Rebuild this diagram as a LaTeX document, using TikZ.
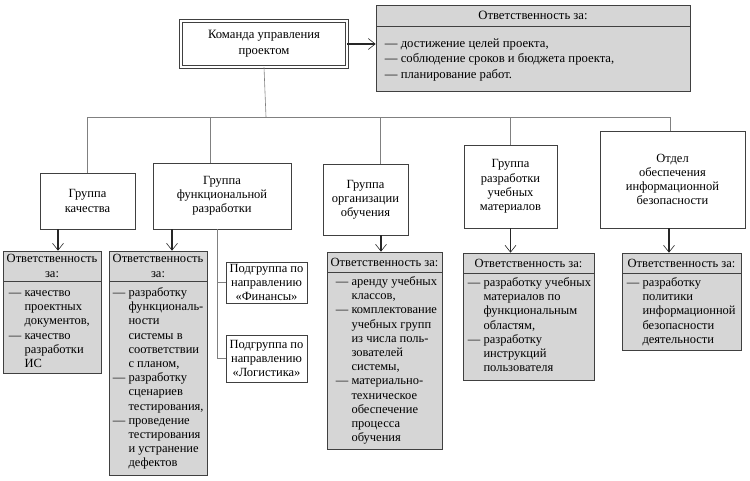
\documentclass[tikz,border=0pt]{standalone}
\usepackage{fontspec}
\setmainfont{Liberation Serif}
\usetikzlibrary{arrows.meta}

\newcommand{\ind}{\hphantom{— }}

\begin{document}
\begin{tikzpicture}[x=1pt,y=1pt,yscale=-1,
    every node/.style={font=\fontsize{12.5}{14.2}\selectfont},
    box/.style={draw=black!75, fill=white, line width=0.6pt, align=center, inner sep=0pt},
    resphead/.style={draw=black!75, fill=black!16, line width=0.6pt, align=center, inner sep=0pt},
    respbody/.style={draw=black!75, fill=black!16, line width=0.6pt, anchor=north west, inner sep=0pt},
    dutytext/.style={anchor=north west, align=left, inner sep=0pt},
    link/.style={draw=black!50, line width=0.6pt},
    resp/.style={draw=black!85, line width=1.4pt, -{Straight Barb[line width=0.6pt, length=7pt, width=11pt]}}]
    \path[use as bounding box] (0,0) rectangle (750,481);

    %Team and its duties
    \node[box, double, double distance=2pt, minimum width=166pt, minimum height=46pt,
          font=\fontsize{12.7}{16}\selectfont] (team) at (264,44) {Команда управления\\проектом};
    \node[resphead, minimum width=314pt, minimum height=21pt, font=\fontsize{12.7}{15}\selectfont] (rtop) at (533,15.5) {Ответственность за:};
    \node[respbody, minimum width=314pt, minimum height=65pt] (btop) at (rtop.south west) {};
    \node[dutytext, font=\fontsize{12.7}{15.5}\selectfont] (ttop) at ([xshift=9pt,yshift=10pt]btop.north west)
        {\strut— достижение целей проекта,\\— соблюдение сроков и бюджета проекта,\\— планирование работ.};

    %Groups
    \node[box, minimum width=95pt, minimum height=56pt] (gqual) at (87.5,201) {Группа\\качества};
    \node[box, minimum width=138pt, minimum height=66pt] (gfunc) at (222,196) {Группа\\функциональной\\разработки};
    \node[box, minimum width=85pt, minimum height=71pt] (gorg) at (365.5,199.5) {Группа\\организации\\обучения};
    \node[box, minimum width=93pt, minimum height=83pt] (gmat) at (510.5,186.5) {Группа\\разработки\\учебных\\материалов};
    \node[box, minimum width=145pt, minimum height=97pt] (gsec) at (672.5,179.5) {Отдел\\обеспечения\\информационной\\безопасности};
    \node[box, minimum width=81pt, minimum height=41pt] (gfin) at (266.5,282.5) {Подгруппа по\\направлению\\«Финансы»};
    \node[box, minimum width=81pt, minimum height=47pt] (glog) at (266.5,358.5) {Подгруппа по\\направлению\\«Логистика»};

    %Duties of the groups
    \node[resphead, minimum width=98pt, minimum height=30pt] (rqual) at (52,266) {Ответственность\\за:};
    \node[respbody, minimum width=98pt, minimum height=92pt] (bqual) at (rqual.south west) {};
    \node[dutytext] (tqual) at ([xshift=6pt,yshift=5pt]bqual.north west)
        {\strut— качество\\\ind проектных\\\ind документов,\\— качество\\\ind разработки\\\ind ИС};
    \node[resphead, minimum width=98pt, minimum height=30pt] (rfunc) at (158,266) {Ответственность\\за:};
    \node[respbody, minimum width=98pt, minimum height=194pt] (bfunc) at (rfunc.south west) {};
    \node[dutytext] (tfunc) at ([xshift=4pt,yshift=5pt]bfunc.north west)
        {\strut— разработку\\\ind функциональ-\\\ind ности\\\ind системы в\\\ind соответствии\\\ind с планом,\\— разработку\\\ind сценариев\\\ind тестирования,\\— проведение\\\ind тестирования\\\ind и устранение\\\ind дефектов};
    \node[resphead, minimum width=115pt, minimum height=20pt] (rorg) at (384.5,262) {Ответственность за:};
    \node[respbody, minimum width=115pt, minimum height=177pt] (borg) at (rorg.south west) {};
    \node[dutytext] (torg) at ([xshift=9pt,yshift=3pt]borg.north west)
        {\strut— аренду учебных\\\ind классов,\\— комплектование\\\ind учебных групп\\\ind из числа поль-\\\ind зователей\\\ind системы,\\— материально-\\\ind техническое\\\ind обеспечение\\\ind процесса\\\ind обучения};
    \node[resphead, minimum width=131pt, minimum height=20pt] (rmat) at (528.5,263) {Ответственность за:};
    \node[respbody, minimum width=131pt, minimum height=107pt] (bmat) at (rmat.south west) {};
    \node[dutytext] (tmat) at ([xshift=5pt,yshift=3pt]bmat.north west)
        {\strut— разработку учебных\\\ind материалов по\\\ind функциональным\\\ind областям,\\— разработку\\\ind инструкций\\\ind пользователя};
    \node[resphead, minimum width=119pt, minimum height=20pt] (rsec) at (681.5,263) {Ответственность за:};
    \node[respbody, minimum width=119pt, minimum height=77pt] (bsec) at (rsec.south west) {};
    \node[dutytext] (tsec) at ([xshift=5pt,yshift=3pt]bsec.north west)
        {\strut— разработку\\\ind политики\\\ind информационной\\\ind безопасности\\\ind деятельности};

    %Tree
    \coordinate (hub) at (266,117);
    \draw[link] (team.south) -- (hub);
    \draw[link] (hub) -| (gqual.north);
    \draw[link] (hub) -| ([xshift=-12pt]gfunc.north);
    \draw[link] (hub) -| ([xshift=14.5pt]gorg.north);
    \draw[link] (hub) -| (gmat.north);
    \draw[link] (hub) -| ([xshift=-2.5pt]gsec.north);
    \draw[link] ([xshift=-5pt]gfunc.south) |- (gfin.west);
    \draw[link] ([xshift=-5pt]gfunc.south) |- (glog.west);

    %Arrows to duties
    \draw[resp] (team.east) -- (team.east -| btop.west);
    \draw[resp] ([xshift=-29.5pt]gqual.south) -- ([xshift=-29.5pt]gqual.south |- rqual.north);
    \draw[resp] ([xshift=-50pt]gfunc.south) -- ([xshift=-50pt]gfunc.south |- rfunc.north);
    \draw[resp] ([xshift=15.5pt]gorg.south) -- ([xshift=15.5pt]gorg.south |- rorg.north);
    \draw[resp] (gmat.south) -- (gmat.south |- rmat.north);
    \draw[resp] ([xshift=-3.5pt]gsec.south) -- ([xshift=-3.5pt]gsec.south |- rsec.north);

\end{tikzpicture}
\end{document}
